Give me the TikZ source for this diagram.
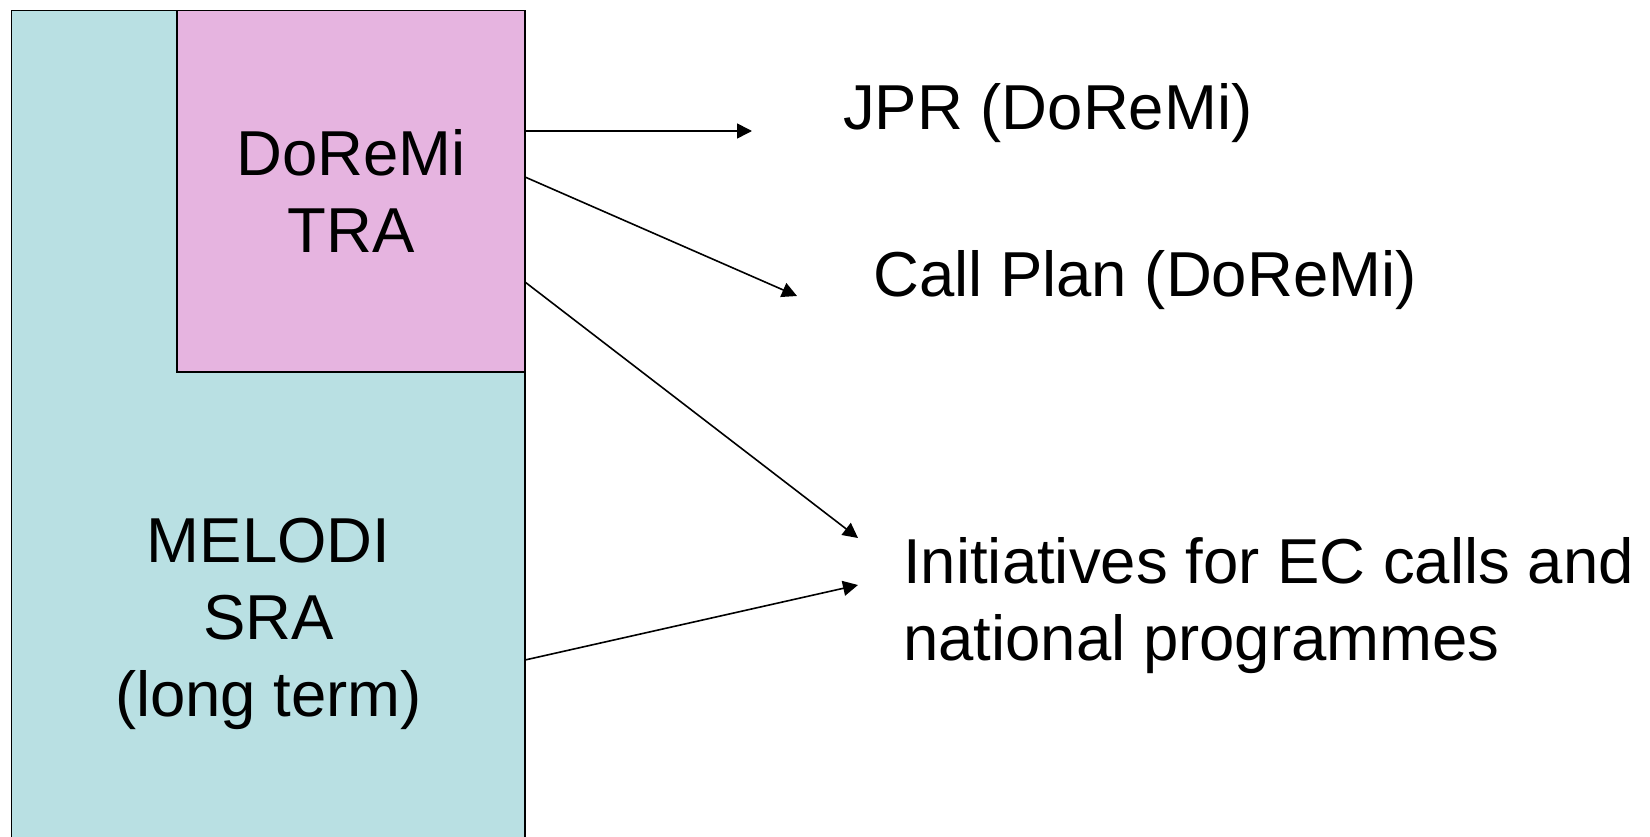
\documentclass[tikz,border=0pt]{standalone}
\usepackage{fontspec}
\setmainfont{Liberation Sans}
\usetikzlibrary{arrows.meta,calc,positioning}
\definecolor{sraBlue}{RGB}{185,224,227}
\definecolor{traPink}{RGB}{230,180,224}

\begin{document}
\begin{tikzpicture}[x=1pt,y=-1pt,
  box/.style={draw,line width=1.6pt,inner sep=0pt,outer sep=0pt},
  lbl/.style={inner sep=0pt,font=\fontsize{63.5}{77}\selectfont},
  arr/.style={line width=1.6pt,-{Triangle[length=15pt,width=15pt]}}]
\useasboundingbox (0,0) rectangle (1650,837);
\node[box,fill=sraBlue,minimum width=513.5pt,minimum height=900pt] (sra) at (268.3,460.5) {};
\node[box,lbl,fill=traPink,minimum width=348pt,minimum height=361.5pt,align=center] (tra) at (351,191.2) {DoReMi\\TRA};
\node[lbl,align=center] (melodi) at (268.5,623.5) {MELODI\\SRA\\(long term)};
\node[lbl,anchor=base west] (jpr) at (843,130) {JPR (DoReMi)};
\node[lbl,anchor=base west] (plan) at (873,297) {Call Plan (DoReMi)};
\node[lbl,anchor=north west,align=left] (init) at (903,537) {Initiatives for EC calls and\\national programmes};
\coordinate (jprtip) at (752,131);
\coordinate (plantip) at (797,296);
\coordinate (inittipA) at (858,538);
\coordinate (inittipB) at (858,585);
\draw[arr] (tra.east |- 0,131) -- (jprtip);
\draw[arr] (tra.east |- 0,177) -- (plantip);
\draw[arr] (tra.east |- 0,282) -- (inittipA);
\draw[arr] (sra.east |- 0,660) -- (inittipB);
\end{tikzpicture}
\end{document}
